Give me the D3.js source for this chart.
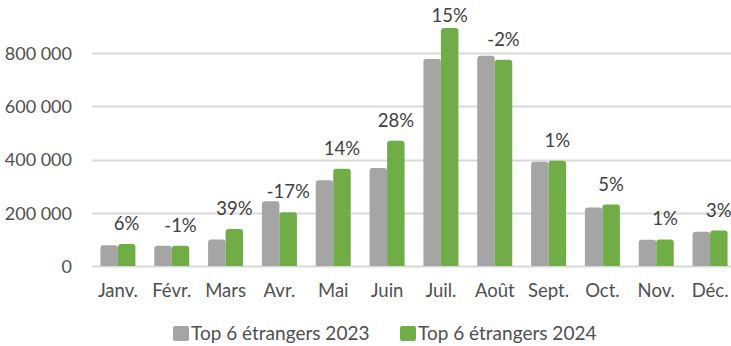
<!DOCTYPE html>
<html>
<head>
<meta charset="utf-8">
<script src="https://cdn.jsdelivr.net/npm/d3@7"></script>
<style>
  html, body { margin: 0; padding: 0; background: #fff; }
  svg { display: block; }
  text { font-family: Lato, "Open Sans", sans-serif; }
</style>
</head>
<body>
<svg id="chart" width="731" height="346"></svg>
<script>
// Monthly arrivals, top 6 foreign markets
const months = ["Janv.", "Févr.", "Mars", "Avr.", "Mai", "Juin", "Juil.", "Août", "Sept.", "Oct.", "Nov.", "Déc."];
const seriesNames = ["Top 6 étrangers 2023", "Top 6 étrangers 2024"];
const values2023 = [78000, 76500, 100000, 243000, 322000, 368000, 778000, 790000, 392000, 220000, 99000, 129000];
const values2024 = [82700, 75800, 139000, 202000, 366000, 471000, 895000, 775000, 396000, 231000, 100000, 133000];
const changeLabels = ["6%", "-1%", "39%", "-17%", "14%", "28%", "15%", "-2%", "1%", "5%", "1%", "3%"];
const yTicks = [0, 200000, 400000, 600000, 800000];
const colors = ["#a5a5a5", "#70ad47"];

const svg = d3.select("#chart");
const W = 731, H = 346;
const plot = { left: 91, right: 737, top: 0, bottom: 266 };

const x0 = d3.scaleBand().domain(months).range([plot.left, plot.right])
  .paddingInner(0.35).paddingOuter(0.175);
const x1 = d3.scaleBand().domain([0, 1]).range([0, x0.bandwidth()]).padding(0);
const y = d3.scaleLinear().domain([0, 1000000]).range([plot.bottom, plot.top]);

const fmt = v => d3.format(",")(v).replace(/,/g, " ");

// Horizontal gridlines
svg.append("g").selectAll("line").data(yTicks).join("line")
  .attr("x1", plot.left + 1).attr("x2", W)
  .attr("y1", d => Math.round(y(d)) + 0.5).attr("y2", d => Math.round(y(d)) + 0.5)
  .attr("stroke", "#d9d9d9").attr("stroke-width", 2);

// Y axis labels
const yAxis = d3.axisLeft(y).tickValues(yTicks).tickFormat(fmt).tickSize(0).tickPadding(0);
const gy = svg.append("g").attr("transform", "translate(72,0)").call(yAxis);
gy.select(".domain").remove();
gy.selectAll("text").attr("font-size", 18).attr("fill", "#505050")
  .attr("font-family", "Lato, 'Open Sans', sans-serif").attr("dy", "0.35em");

// X axis labels
const xAxis = d3.axisBottom(x0).tickSize(0).tickPadding(0);
const gx = svg.append("g").attr("transform", `translate(0,${plot.bottom})`).call(xAxis);
gx.select(".domain").remove();
gx.selectAll("text").attr("font-size", 18.5).attr("fill", "#505050")
  .attr("font-family", "Lato, 'Open Sans', sans-serif").attr("dy", null).attr("y", 31);

// Bars with slightly rounded top corners
function barPath(x, yTop, w, yBase, r) {
  r = Math.min(r, (yBase - yTop) / 2, w / 2);
  return `M${x},${yBase}V${yTop + r}Q${x},${yTop} ${x + r},${yTop}H${x + w - r}Q${x + w},${yTop} ${x + w},${yTop + r}V${yBase}Z`;
}

const rows = months.map((m, i) => ({ month: m, vals: [values2023[i], values2024[i]], label: changeLabels[i] }));

const groups = svg.append("g").selectAll("g").data(rows).join("g")
  .attr("transform", d => `translate(${x0(d.month)},0)`);

groups.selectAll("path").data(d => d.vals.map((v, k) => ({ v, k }))).join("path")
  .attr("d", d => barPath(x1(d.k), y(d.v), x1.bandwidth(), plot.bottom, 3))
  .attr("fill", d => colors[d.k]);

// Year-over-year change labels, above the 2024 bar, kept inside the chart
groups.append("text")
  .attr("x", x1(1) + x1.bandwidth() / 2)
  .attr("y", d => Math.max(y(d.vals[1]) - 14, 22))
  .attr("text-anchor", "middle")
  .attr("font-size", 18.5).attr("fill", "#404040")
  .text(d => d.label);

// Legend
const legendItems = [{ x: 173, name: seriesNames[0], c: colors[0] }, { x: 400, name: seriesNames[1], c: colors[1] }];
const li = svg.append("g").selectAll("g").data(legendItems).join("g")
  .attr("transform", d => `translate(${d.x},326)`);
li.append("rect").attr("width", 16).attr("height", 15).attr("rx", 2).attr("fill", d => d.c);
li.append("text").attr("x", 18).attr("y", 14).attr("font-size", 19).attr("fill", "#505050")
  .text(d => d.name);
</script>
</body>
</html>
